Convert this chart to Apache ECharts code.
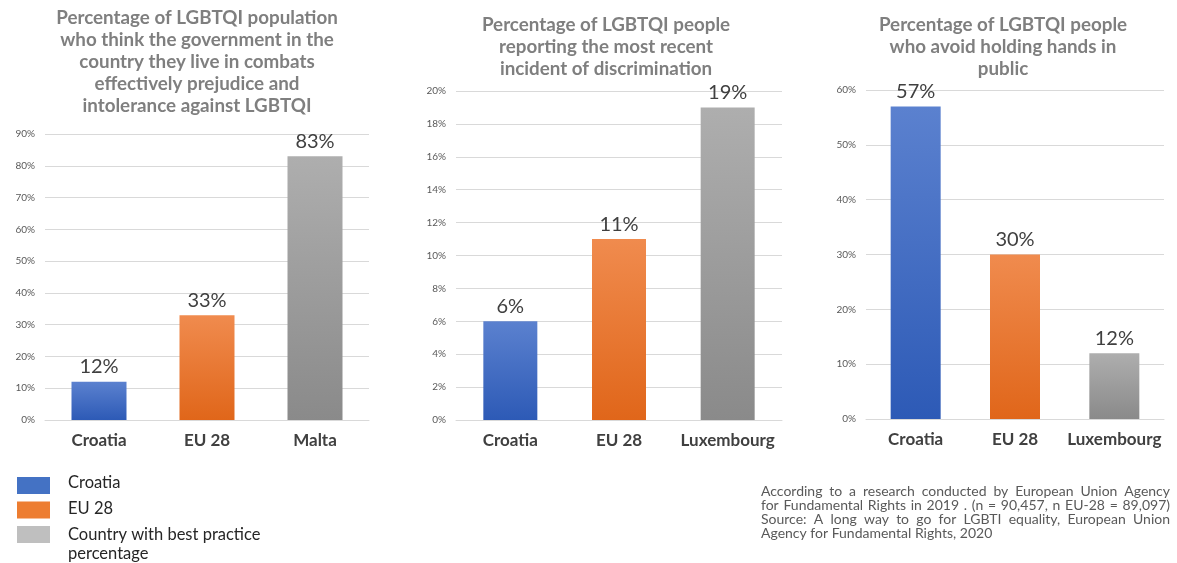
<!DOCTYPE html>
<html>
<head>
<meta charset="utf-8">
<script src="https://cdn.jsdelivr.net/npm/echarts@6/dist/echarts.min.js"></script>
<style>
  html, body { margin: 0; padding: 0; background: #ffffff; }
  #chart { width: 1177px; height: 563px; }
</style>
</head>
<body>
<div id="chart"></div>
<script>
// Survey figures (EU Fundamental Rights Agency, LGBTI survey 2019)
const titles = [
  'Percentage of LGBTQI population\nwho think the government in the\ncountry they live in combats\neffectively prejudice and\nintolerance against LGBTQI',
  'Percentage of LGBTQI people\nreporting the most recent\nincident of discrimination',
  'Percentage of LGBTQI people\nwho avoid holding hands in\npublic'
];
const categoriesGov = ['Croatia', 'EU 28', 'Malta'];
const valuesGov = [12, 33, 83];
const categoriesReport = ['Croatia', 'EU 28', 'Luxembourg'];
const valuesReport = [6, 11, 19];
const categoriesHands = ['Croatia', 'EU 28', 'Luxembourg'];
const valuesHands = [57, 30, 12];
const axisMax = [90, 20, 60];
const axisStep = [10, 2, 10];

const legendNames = ['Croatia', 'EU 28', 'Country with best practice\npercentage'];
const sourceLines = [
  'According to a research conducted by European Union Agency',
  'for Fundamental Rights in 2019 . (n = 90,457, n EU-28 = 89,097)',
  'Source: A long way to go for LGBTI equality, European Union',
  'Agency for Fundamental Rights, 2020'
];

const FONT = 'Lato, "Open Sans", sans-serif';

function grad(top, bottom) {
  return new echarts.graphic.LinearGradient(0, 0, 0, 1, [
    { offset: 0, color: top },
    { offset: 1, color: bottom }
  ]);
}
const fills = [
  grad('#5b81cf', '#2d5ab6'),
  grad('#f08b4e', '#e0661a'),
  grad('#aeaeae', '#8a8a8a')
];
const swatches = ['#4472c4', '#ed7d31', '#bfbfbf'];

const gridBoxes = [
  { left: 45, top: 134, width: 324, height: 286 },
  { left: 456, top: 91, width: 326, height: 329 },
  { left: 866, top: 90, width: 298, height: 329 }
];
const titlePos = [{ x: 197, y: 7 }, { x: 606, y: 14 }, { x: 1003, y: 14 }];
const barWidths = [55, 54, 50];
const cats = [categoriesGov, categoriesReport, categoriesHands];
const vals = [valuesGov, valuesReport, valuesHands];

// Justified source note: every line but the last is spread to the block width
const NOTE_X = 761, NOTE_Y = 484, NOTE_W = 409, NOTE_LH = 14, NOTE_SIZE = 14;
const measureCtx = document.createElement('canvas').getContext('2d');
measureCtx.font = NOTE_SIZE + 'px ' + FONT;
function noteGraphics() {
  const out = [];
  sourceLines.forEach((line, k) => {
    const y = NOTE_Y + k * NOTE_LH;
    const style = { fontFamily: FONT, fontSize: NOTE_SIZE, fill: '#595959' };
    if (k === sourceLines.length - 1) {
      out.push({ type: 'text', x: NOTE_X, y, style: Object.assign({ text: line }, style) });
      return;
    }
    const words = line.split(' ');
    const widths = words.map(w => measureCtx.measureText(w).width);
    const total = widths.reduce((a, b) => a + b, 0);
    const gap = (NOTE_W - total) / (words.length - 1);
    let x = NOTE_X;
    words.forEach((w, n) => {
      out.push({ type: 'text', x, y, style: Object.assign({ text: w }, style) });
      x += widths[n] + gap;
    });
  });
  return out;
}

const option = {
  backgroundColor: '#ffffff',
  animation: false,
  title: titles.map((t, i) => ({
    text: t,
    left: titlePos[i].x,
    top: titlePos[i].y,
    padding: 0,
    textAlign: 'center',
    textStyle: {
      fontFamily: FONT, fontWeight: 'bold', fontSize: 18.8,
      lineHeight: 22, color: '#7f7f7f', align: 'center'
    }
  })),
  grid: gridBoxes.map(g => Object.assign({ containLabel: false }, g)),
  xAxis: cats.map((c, i) => ({
    type: 'category',
    gridIndex: i,
    data: c,
    axisLine: { lineStyle: { color: '#d9d9d9', width: 1 } },
    axisTick: { show: false },
    axisLabel: {
      interval: 0, margin: 12, fontFamily: FONT, fontWeight: 'bold',
      fontSize: 17, color: '#404040'
    }
  })),
  yAxis: axisMax.map((m, i) => ({
    type: 'value',
    gridIndex: i,
    min: 0, max: m, interval: axisStep[i],
    axisLine: { show: false },
    axisTick: { show: false },
    splitLine: { lineStyle: { color: '#d9d9d9', width: 1 } },
    axisLabel: {
      formatter: '{value}%', margin: 10,
      fontFamily: FONT, fontSize: 10, color: '#595959'
    }
  })),
  series: vals.map((v, i) => ({
    type: 'bar',
    xAxisIndex: i,
    yAxisIndex: i,
    barWidth: barWidths[i],
    data: v.map((val, j) => ({ value: val, itemStyle: { color: fills[j] } })),
    label: {
      show: true, position: 'top', distance: 5,
      formatter: '{c}%', fontFamily: FONT, fontSize: 20, color: '#404040'
    }
  })),
  graphic: [
    ...legendNames.map((name, j) => ({
      type: 'rect',
      shape: { x: 17, y: 477 + j * 24.5, width: 33, height: 17 },
      style: { fill: swatches[j] }
    })),
    ...legendNames.map((name, j) => ({
      type: 'text',
      x: 68, y: 473 + j * 26,
      style: {
        text: name, fontFamily: FONT, fontSize: 16.5, lineHeight: 19,
        fill: '#262626'
      }
    })),
    ...noteGraphics()
  ]
};

echarts.init(document.getElementById('chart'), null, { renderer: 'canvas' }).setOption(option);
</script>
</body>
</html>
